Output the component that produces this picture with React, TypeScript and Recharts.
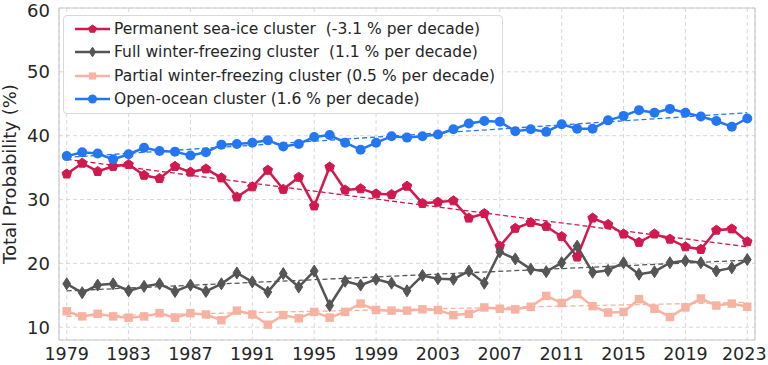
import React from 'react';
import {
  ComposedChart,
  Line,
  XAxis,
  YAxis,
  CartesianGrid,
  ReferenceLine,
} from 'recharts';

const years = [
  1979, 1980, 1981, 1982, 1983, 1984, 1985, 1986, 1987, 1988,
  1989, 1990, 1991, 1992, 1993, 1994, 1995, 1996, 1997, 1998,
  1999, 2000, 2001, 2002, 2003, 2004, 2005, 2006, 2007, 2008,
  2009, 2010, 2011, 2012, 2013, 2014, 2015, 2016, 2017, 2018,
  2019, 2020, 2021, 2022, 2023,
];

const permanent = [
  34.0, 35.7, 34.4, 35.2, 35.5, 33.8, 33.3, 35.2, 34.3, 34.8,
  33.4, 30.4, 32.0, 34.6, 31.6, 33.5, 29.0, 35.1, 31.5, 31.7,
  30.9, 30.8, 32.1, 29.4, 29.6, 29.8, 27.1, 27.8, 22.7, 25.5,
  26.4, 25.8, 24.2, 21.0, 27.1, 26.1, 24.6, 23.3, 24.6, 23.8,
  22.6, 22.2, 25.2, 25.4, 23.4,
];

const fullWinter = [
  16.8, 15.4, 16.6, 16.8, 15.7, 16.4, 16.8, 15.6, 16.6, 15.6,
  16.8, 18.5, 17.1, 15.5, 18.4, 16.3, 18.8, 13.4, 17.2, 16.6,
  17.5, 16.9, 15.7, 18.1, 17.6, 17.5, 18.8, 16.9, 21.8, 20.7,
  19.1, 18.7, 20.1, 22.7, 18.6, 18.9, 20.1, 18.3, 18.7, 20.1,
  20.4, 20.1, 18.8, 19.3, 20.6,
];

const partialWinter = [
  12.5, 11.7, 12.1, 11.7, 11.5, 11.7, 12.2, 11.5, 12.2, 12.0,
  11.1, 12.6, 12.0, 10.4, 11.9, 11.4, 12.4, 11.5, 12.4, 13.7,
  12.7, 12.6, 12.6, 12.8, 12.7, 11.9, 12.1, 13.1, 12.9, 12.8,
  13.2, 14.9, 13.8, 15.2, 13.3, 12.3, 12.4, 14.4, 12.9, 11.6,
  13.1, 14.5, 13.4, 13.7, 13.2,
];

const openOcean = [
  36.8, 37.4, 37.2, 36.3, 37.1, 38.1, 37.6, 37.5, 36.9, 37.4,
  38.6, 38.7, 38.9, 39.3, 38.3, 38.7, 39.8, 40.1, 38.9, 37.8,
  38.9, 39.9, 39.7, 39.9, 40.2, 41.0, 41.9, 42.3, 42.2, 40.7,
  41.0, 40.6, 41.8, 41.1, 41.1, 42.4, 43.1, 44.0, 43.6, 44.2,
  43.6, 43.0, 42.3, 41.4, 42.7,
];

// dashed trend lines, start (1979) and end (2023) values
const permanentTrend = [36.3, 22.6];
const fullTrend = [15.7, 20.5];
const partialTrend = [11.7, 13.9];
const openTrend = [36.6, 43.6];

const xTicks = [1979, 1983, 1987, 1991, 1995, 1999, 2003, 2007, 2011, 2015, 2019, 2023];
const yTicks = [10, 20, 30, 40, 50, 60];

const legendLabels = [
  'Permanent sea-ice cluster  (-3.1 % per decade)',
  'Full winter-freezing cluster  (1.1 % per decade)',
  'Partial winter-freezing cluster (0.5 % per decade)',
  'Open-ocean cluster (1.6 % per decade)',
];

const RED = '#d0194f';
const GREY = '#555555';
const PINK = '#f8b2a1';
const BLUE = '#2477f2';
const FONT = '"DejaVu Sans", sans-serif';

const last = years.length - 1;
const data = years.map((year, i) => ({
  year,
  permanent: permanent[i],
  fullWinter: fullWinter[i],
  partialWinter: partialWinter[i],
  openOcean: openOcean[i],
  permanentTrend: i === 0 ? permanentTrend[0] : i === last ? permanentTrend[1] : null,
  fullTrend: i === 0 ? fullTrend[0] : i === last ? fullTrend[1] : null,
  partialTrend: i === 0 ? partialTrend[0] : i === last ? partialTrend[1] : null,
  openTrend: i === 0 ? openTrend[0] : i === last ? openTrend[1] : null,
}));

type Shape = 'pentagon' | 'diamond' | 'square' | 'circle';

function marker(shape: Shape, cx: number, cy: number, s: number, color: string, key?: string | number) {
  if (shape === 'pentagon') {
    const pts = [0, 1, 2, 3, 4]
      .map(k => {
        const a = (-90 + k * 72) * Math.PI / 180;
        return `${cx + s * Math.cos(a)},${cy + s * Math.sin(a)}`;
      })
      .join(' ');
    return <polygon key={key} points={pts} fill={color} stroke={color} strokeWidth={1} />;
  }
  if (shape === 'diamond') {
    const w = s * 0.78;
    const h = s * 1.2;
    const pts = `${cx},${cy - h} ${cx + w},${cy} ${cx},${cy + h} ${cx - w},${cy}`;
    return <polygon key={key} points={pts} fill={color} stroke={color} strokeWidth={1} />;
  }
  if (shape === 'square') {
    return <rect key={key} x={cx - s * 0.9} y={cy - s * 0.9} width={s * 1.8} height={s * 1.8} fill={color} />;
  }
  return <circle key={key} cx={cx} cy={cy} r={s} fill={color} />;
}

const dotOf = (shape: Shape, color: string, s: number) => (props: any) => {
  const { cx, cy, index } = props;
  if (cx == null || cy == null) return <g key={index} />;
  return marker(shape, cx, cy, s, color, index);
};

const series: { key: string; trend: string; color: string; shape: Shape; size: number }[] = [
  { key: 'permanent', trend: 'permanentTrend', color: RED, shape: 'pentagon', size: 5 },
  { key: 'fullWinter', trend: 'fullTrend', color: GREY, shape: 'diamond', size: 5 },
  { key: 'partialWinter', trend: 'partialTrend', color: PINK, shape: 'square', size: 4.7 },
  { key: 'openOcean', trend: 'openTrend', color: BLUE, shape: 'circle', size: 5 },
];

// year tick; the last one is nudged in a touch so it stays inside the page
function YearTick(props: any) {
  const { x, y, payload } = props;
  const nudge = payload.value === 2023 ? -3 : 0;
  return (
    <text
      x={x + nudge}
      y={y}
      dy="0.71em"
      textAnchor="middle"
      fill="#262626"
      fontSize={17.5}
      fontFamily={FONT}
    >
      {payload.value}
    </text>
  );
}

function LegendBox() {
  return (
    <div
      style={{
        position: 'absolute',
        left: 63,
        top: 15,
        width: 438,
        height: 97,
        border: '1px solid #d9d9d9',
        borderRadius: 4,
        background: 'rgba(255,255,255,0.85)',
        fontFamily: FONT,
        fontSize: 15.5,
        color: '#262626',
      }}
    >
      {series.map((s, i) => (
        <div
          key={s.key}
          style={{ position: 'absolute', left: 0, top: 2 + i * 23.4, height: 22, display: 'flex', alignItems: 'center' }}
        >
          <svg width={50} height={22} style={{ display: 'block' }}>
            <line x1={11} x2={46} y1={11} y2={11} stroke={s.color} strokeWidth={2.5} />
            {marker(s.shape, 28.5, 11, s.shape === 'circle' ? 4.5 : 4, s.color)}
          </svg>
          <span style={{ whiteSpace: 'pre', marginLeft: 0 }}>{legendLabels[i]}</span>
        </div>
      ))}
    </div>
  );
}

export default function App() {
  return (
    <div style={{ position: 'absolute', left: 0, top: 0, width: 768, height: 365, background: '#fff' }}>
      <ComposedChart
        width={768}
        height={365}
        data={data}
        margin={{ top: 8, right: 13, bottom: 0, left: 0 }}
      >
        <CartesianGrid stroke="#d4d4d4" strokeDasharray="4 3" strokeWidth={0.9} />
        <XAxis
          dataKey="year"
          type="number"
          domain={[1978.5, 2023.5]}
          ticks={xTicks}
          height={25}
          tickLine={false}
          tickSize={0}
          tickMargin={8}
          axisLine={{ stroke: '#cccccc', strokeWidth: 1.2 }}
          tick={<YearTick />}
          allowDataOverflow
        />
        <YAxis
          type="number"
          domain={[8, 60]}
          ticks={yTicks}
          width={59}
          tickLine={false}
          tickSize={0}
          tickMargin={9}
          axisLine={{ stroke: '#cccccc', strokeWidth: 1.2 }}
          tick={{ fill: '#262626', fontSize: 18, fontFamily: FONT }}
          allowDataOverflow
          label={{
            value: 'Total Probability (%)',
            angle: -90,
            position: 'insideLeft',
            offset: 0,
            dx: 10,
            style: { textAnchor: 'middle', fill: '#262626', fontSize: 18, fontFamily: FONT },
          }}
        />
        <ReferenceLine y={60} stroke="#cccccc" strokeWidth={1.2} />
        <ReferenceLine x={2023.5} stroke="#cccccc" strokeWidth={1.2} />
        {series.map(s => [
          <Line
            key={s.key}
            type="linear"
            dataKey={s.key}
            stroke={s.color}
            strokeWidth={2.5}
            dot={dotOf(s.shape, s.color, s.size)}
            activeDot={false}
            isAnimationActive={false}
          />,
          <Line
            key={s.trend}
            type="linear"
            dataKey={s.trend}
            stroke={s.color}
            strokeWidth={1.3}
            strokeDasharray="5 3"
            dot={false}
            activeDot={false}
            connectNulls
            isAnimationActive={false}
          />,
        ])}
      </ComposedChart>
      <LegendBox />
    </div>
  );
}
